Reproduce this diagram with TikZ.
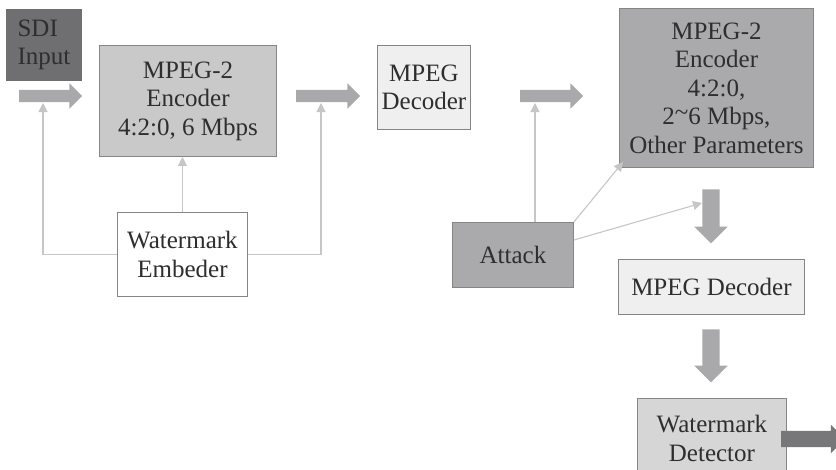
\documentclass[tikz,border=0pt]{standalone}
\usepackage{fontspec}
\setmainfont{Liberation Serif}
\usetikzlibrary{arrows.meta, positioning, shapes.arrows}
\definecolor{txtgray}{HTML}{2E2E2E}
\definecolor{sdigray}{HTML}{6F6F71}
\definecolor{encgray}{HTML}{C9C9CA}
\definecolor{enctwo}{HTML}{AAAAAC}
\definecolor{paper}{HTML}{EFEFEF}
\definecolor{detgray}{HTML}{D6D6D7}
\definecolor{edge}{HTML}{858585}
\definecolor{fatgray}{HTML}{A9A9AB}
\definecolor{outgray}{HTML}{777779}
\definecolor{thingray}{HTML}{C6C6C6}
\tikzset{
  box/.style={rectangle,draw=edge,line width=0.9pt,align=center,anchor=north west,
    inner sep=2pt,text=txtgray,font=\rmfamily\fontsize{25}{28.5}\selectfont},
  fatarrow/.style={single arrow,fill=fatgray,draw=none,inner xsep=0pt,
    single arrow tip angle=90},
  downarrow/.style={fatarrow,shape border rotate=270,inner ysep=0pt,inner xsep=8.5pt},
  line/.style={-{Triangle[length=9pt,width=9pt]},draw=thingray,line width=1.1pt}
}

\begin{document}
\begin{tikzpicture}[x=1pt,y=-1pt]
\useasboundingbox (0,0) rectangle (836,469);
% blocks
\node[box, draw=sdigray, fill=sdigray, align=left, minimum width=75pt, minimum height=71pt] (sdi) at (6,9) {SDI\\Input};
\node[box, fill=encgray, minimum width=177pt, minimum height=111pt] (enc) at (99,45) {MPEG-2\\Encoder\\4:2:0, 6 Mbps};
\node[box, fill=paper, minimum width=93pt, minimum height=84pt] (dec) at (377,45) {MPEG\\Decoder};
\node[box, fill=enctwo, minimum width=194pt, minimum height=159pt] (enctwo) at (619,8) {MPEG-2\\Encoder\\4:2:0,\\2\raisebox{0.15em}{\textasciitilde}6 Mbps,\\Other Parameters};
\node[box, fill=white, minimum width=130pt, minimum height=84pt] (emb) at (117,212) {Watermark\\Embeder};
\node[box, fill=enctwo, minimum width=121pt, minimum height=65pt] (att) at (452,222) {Attack};
\node[box, fill=paper, minimum width=186pt, minimum height=55pt] (dectwo) at (618,259) {MPEG Decoder};
\node[box, fill=detgray, minimum width=149pt, minimum height=80pt] (det) at (637,398) {Watermark\\Detector};

% fat arrows
\node[fatarrow, minimum height=63pt, inner ysep=6pt, single arrow head extend=6.5pt] (fa) at (47.5,96) {};
\node[fatarrow, minimum height=64pt, inner ysep=6pt, single arrow head extend=6.5pt] (fb) at (325,96) {};
\node[fatarrow, minimum height=63pt, inner ysep=6pt, single arrow head extend=6.5pt] (fc) at (548.5,96) {};
\node[downarrow, minimum height=54pt, single arrow head extend=8pt] (fd) at (711,212) {};
\node[downarrow, minimum height=53pt, single arrow head extend=8pt] (fe) at (711,351.5) {};
\node[fatarrow, fill=outgray, minimum height=64pt, inner ysep=8pt, single arrow head extend=6pt] (ff) at (809,439) {};

% thin connectors
\coordinate (ta) at (43,103);
\coordinate (tb) at (321,103);
\coordinate (tc) at (535,103);
\coordinate (td) at (702,203);
\coordinate (te) at (623,162);
\draw[line] (emb.west) -| (ta);
\draw[line] (emb.east) -| (tb);
\draw[line] (emb.north) -- (enc.south -| emb.north);
\draw[line] (att.north -| tc) -- (tc);
\draw[line] (att.north east) -- (te);
\draw[line] ([yshift=-18pt]att.north east) -- (td);
\end{tikzpicture}
\end{document}
